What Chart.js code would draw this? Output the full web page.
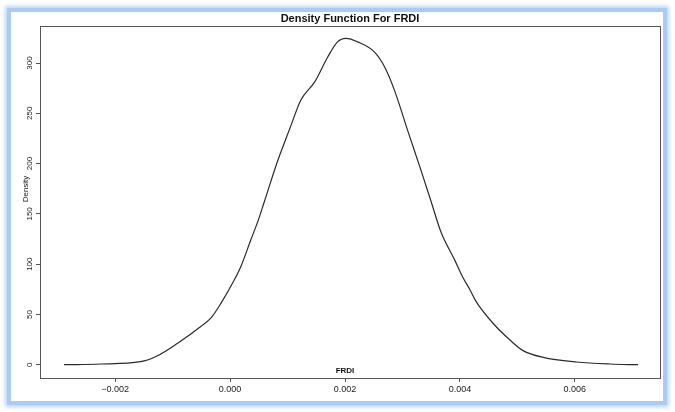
<!DOCTYPE html>
<html>
<head>
<meta charset="utf-8">
<script src="https://cdn.jsdelivr.net/npm/chart.js@4.4.1/dist/chart.umd.min.js"></script>
<style>
  html, body { margin: 0; padding: 0; background: #fff; }
  body { width: 675px; height: 412px; position: relative; overflow: hidden; }
  .panel {
    position: absolute; left: 7px; top: 8px;
    width: 652px; height: 389px;
    border: 4px solid #a9cbf4;
    box-shadow: 0 0 4px 2px rgba(150, 190, 240, 0.65);
    background: #fff;
  }
</style>
</head>
<body>
<div class="panel"><canvas id="density" width="652" height="389"></canvas></div>
<script>
// FRDI density curve
const frdi = [-0.00289, -0.00225, -0.00156, -0.00127, -0.00092, -0.00051, -0.00034, -0.00016,
  0.00007, 0.00019, 0.00036, 0.00048, 0.00059, 0.00083, 0.00094, 0.00106,
  0.00123, 0.00147, 0.0017, 0.00187, 0.00202, 0.00222, 0.00251, 0.00269, 0.00286,
  0.00309, 0.00333, 0.0035, 0.00367, 0.00391, 0.00405, 0.00417, 0.00428, 0.00458,
  0.00487, 0.0051, 0.00545, 0.00603, 0.00661, 0.0071];
const density = [0, 0.7, 3, 8.7, 21, 38, 46, 61,
  84, 98, 124, 142, 161, 203, 220, 238,
  263, 281, 306, 321, 324.5, 321, 311, 296, 273,
  233, 192, 162, 132, 104, 87, 75, 63, 41,
  24.6, 14, 7.3, 2.7, 0.7, 0];

const xTicks = [-0.002, 0.000, 0.002, 0.004, 0.006];
const yTicks = [0, 50, 100, 150, 200, 250, 300];

const titleText = 'Density Function For FRDI';
const xLabel = 'FRDI';
const yLabel = 'Density';

Chart.defaults.font.family = '"Liberation Sans", Arial, sans-serif';
Chart.defaults.color = '#222';

// box round the plot plus the R style labels
const rFrame = {
  id: 'rFrame',
  afterDraw(chart) {
    const ctx = chart.ctx;
    const a = chart.chartArea;
    ctx.save();
    ctx.strokeStyle = '#555';
    ctx.lineWidth = 1;
    ctx.strokeRect(Math.round(a.left) + 0.5, Math.round(a.top) + 0.5,
      Math.round(a.right - a.left), Math.round(a.bottom - a.top));

    ctx.fillStyle = '#111';
    ctx.textAlign = 'center';
    ctx.textBaseline = 'middle';
    ctx.font = 'bold 11px "Liberation Sans", Arial, sans-serif';
    ctx.fillText(titleText, (a.left + a.right) / 2, a.top - 7.5);

    ctx.font = 'bold 8px "Liberation Sans", Arial, sans-serif';
    ctx.fillText(xLabel, (a.left + a.right) / 2 - 5, a.bottom - 7);

    ctx.font = '8px "Liberation Sans", Arial, sans-serif';
    ctx.translate(a.left - 14, a.top + 163);
    ctx.rotate(-Math.PI / 2);
    ctx.fillText(yLabel, 0, 0);
    ctx.restore();
  }
};

new Chart(document.getElementById('density'), {
  type: 'scatter',
  data: {
    datasets: [{
      label: yLabel,
      data: frdi.map((x, i) => ({ x: x, y: density[i] })),
      showLine: true,
      borderColor: '#2a2a2a',
      borderWidth: 1.2,
      pointRadius: 0,
      cubicInterpolationMode: 'monotone',
      fill: false
    }]
  },
  options: {
    responsive: false,
    devicePixelRatio: 1,
    animation: false,
    layout: { padding: { top: 14, right: 3, left: 0, bottom: 0 } },
    plugins: {
      legend: { display: false },
      tooltip: { enabled: false }
    },
    scales: {
      x: {
        type: 'linear',
        min: -0.003308,
        max: 0.007482,
        afterFit(scale) { scale.height = 23; },
        afterBuildTicks(scale) { scale.ticks = xTicks.map(v => ({ value: v })); },
        border: { display: false },
        grid: { drawOnChartArea: false, drawTicks: true, tickLength: 4, color: '#555' },
        ticks: {
          padding: 2,
          font: { size: 9 },
          color: '#222',
          maxRotation: 0,
          callback: v => (v < 0 ? '\u2212' : '') + Math.abs(v).toFixed(3)
        }
      },
      y: {
        type: 'linear',
        min: -13.2,
        max: 336.8,
        afterFit(scale) { scale.width = 29; },
        afterBuildTicks(scale) { scale.ticks = yTicks.map(v => ({ value: v })); },
        border: { display: false },
        grid: { drawOnChartArea: false, drawTicks: true, tickLength: 4, color: '#555' },
        ticks: {
          padding: 0,
          font: { size: 8 },
          color: '#222',
          minRotation: 90,
          maxRotation: 90,
          crossAlign: 'center',
          callback: v => String(v)
        }
      }
    }
  },
  plugins: [rFrame]
});
</script>
</body>
</html>
